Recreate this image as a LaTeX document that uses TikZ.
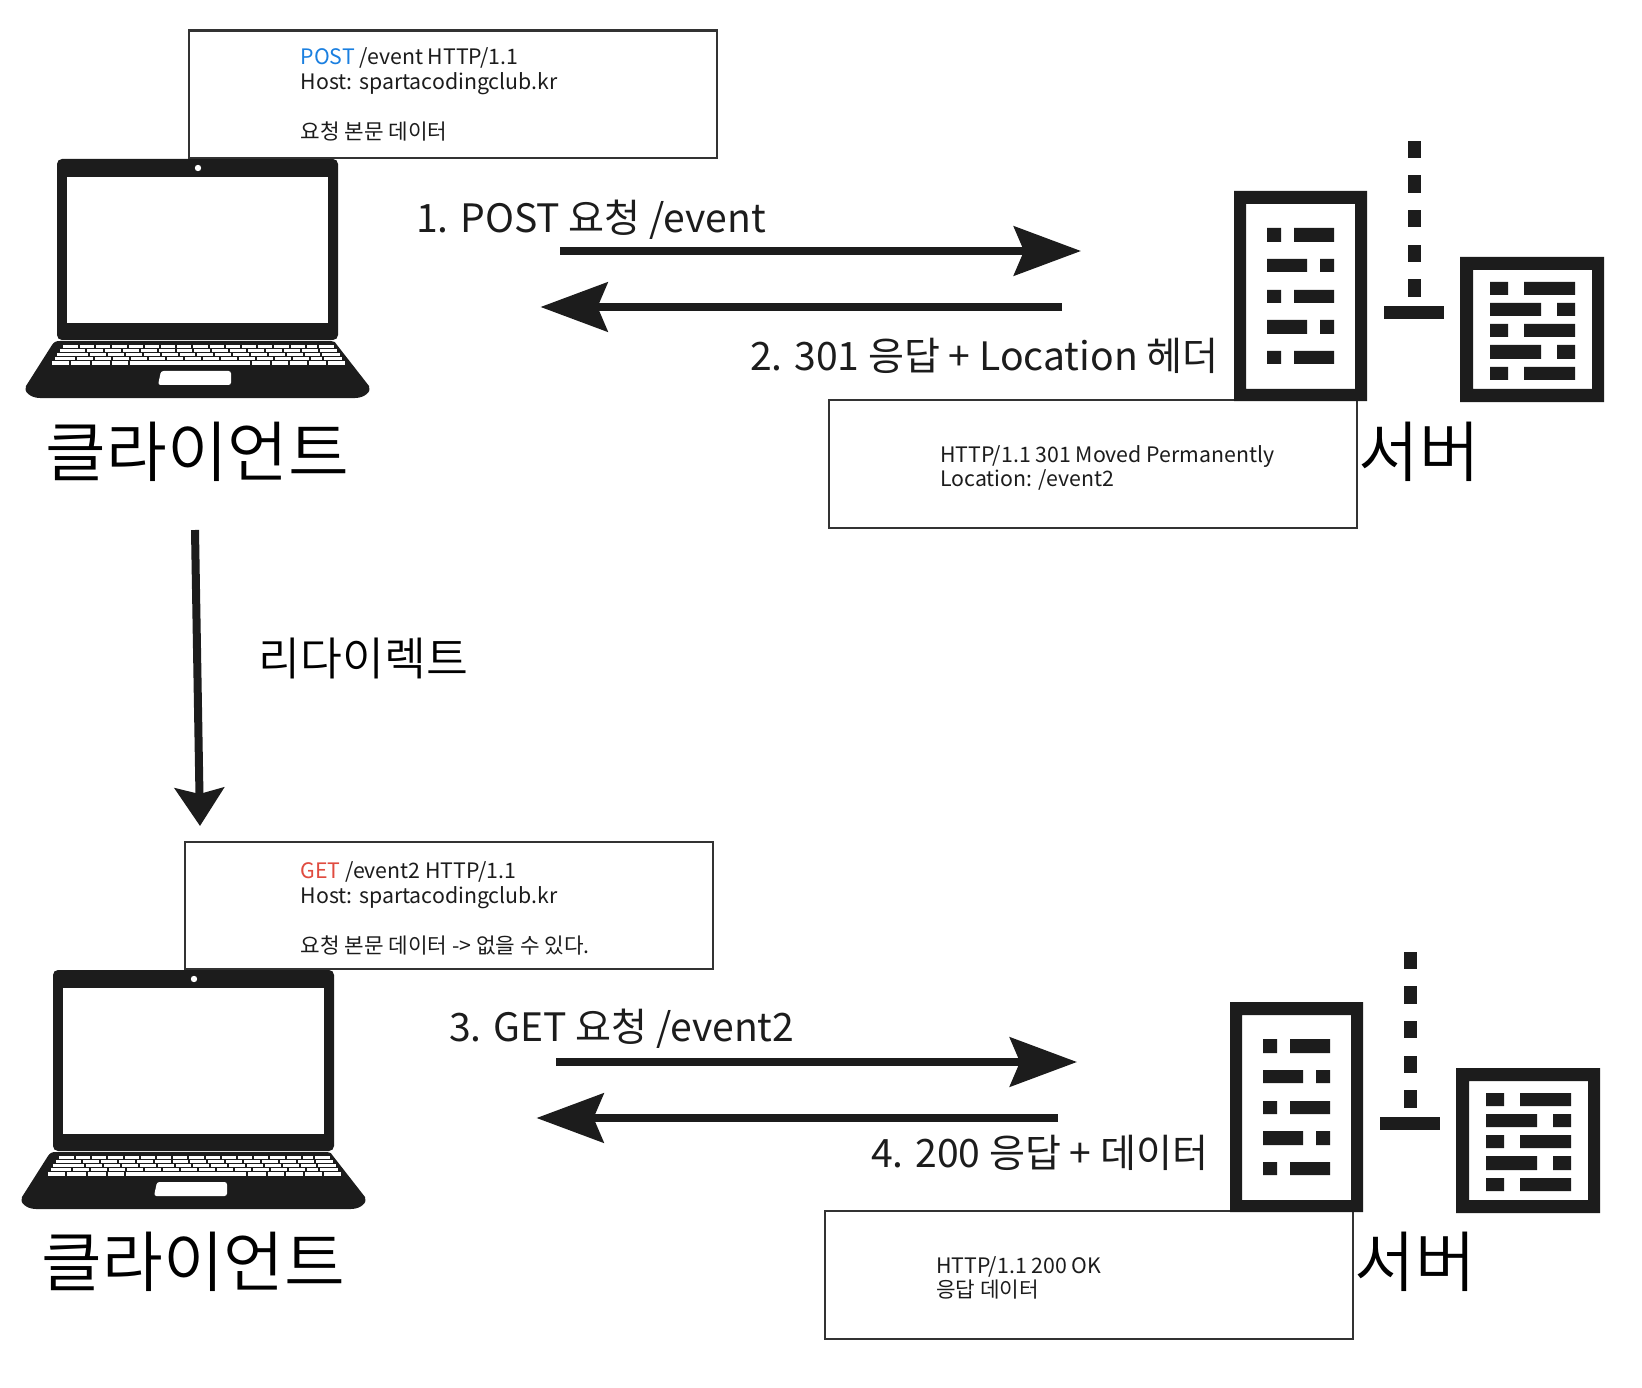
\documentclass[tikz,border=0pt]{standalone}
\usepackage{fontspec}
\setmainfont{Noto Sans CJK KR}
\newfontfamily\lightkr{Noto Sans CJK KR DemiLight}
\usetikzlibrary{arrows.meta}
\definecolor{ink}{HTML}{1C1C1C}
\definecolor{boxline}{HTML}{333333}
\definecolor{postblue}{HTML}{1A7FE0}
\definecolor{getred}{HTML}{E04B3F}
\tikzset{
  msgbox/.style={draw=boxline,line width=2.4pt,fill=white,minimum width=528pt,minimum height=127.5pt,anchor=north west,inner sep=0},
  msgtext/.style={anchor=west,inner sep=0,font=\fontsize{21.3}{24}\selectfont,text=ink},
  steplabel/.style={anchor=base west,inner sep=0,font=\fontsize{39.1}{44}\selectfont,text=ink},
  bigtext/.style={anchor=center,inner sep=0,font=\lightkr\fontsize{66}{76}\selectfont,text=black},
  flow/.style={draw=ink,line width=8pt,-{Stealth[length=67pt,width=49pt,inset=10pt,fill=ink]}},
  flowdown/.style={draw=ink,line width=8pt,-{Stealth[length=38pt,width=49pt,inset=6pt,fill=ink]}},
  laptop/.pic={
    \fill[ink,rounded corners=5pt] (57,159) rectangle (338,340);
    \fill[white] (67,177) rectangle (328,323);
    \fill[white] (198,168) circle (3.2);
    \fill[ink] (60,341) -- (331,341) .. controls (334,341) and (335,342) .. (337,345)
      -- (369,386) .. controls (372,391) and (365,398) .. (355,398) -- (40,398)
      .. controls (30,398) and (23,391) .. (26,386) -- (52,345)
      .. controls (54,342) and (56,341) .. (60,341) -- cycle;
    % keyboard: white strips, cut by black ticks
    \foreach \ya/\yb/\xa/\xb/\xc/\xd/\ta/\tb/\tc in {
      345/347.8/63/317/319/334/78/94.2/305,
      349/351.7/60/318/320/337/85/102.9/305,
      353/355.8/57/320/322/340/88/105.9/305,
      357/359.6/55/322/324/342/75/93/310}
    {
      \fill[white] (\xa,\ya) rectangle (\xb,\yb);
      \fill[white] (\xc,\ya) rectangle (\xd,\yb);
      \foreach \x in {\ta,\tb,...,\tc} {\fill[ink] (\x,\ya) rectangle (\x+2,\yb);}
    }
    \fill[white] (52,361) rectangle (345,365);
    \foreach \x in {69,90,110,128,250,270,288,307,326} {\fill[ink] (\x,361) rectangle (\x+2,365);}
    \fill[white,rounded corners=2.5pt] (161,371) -- (231,371) -- (231,385) -- (158,385) -- cycle;
  },
  server/.pic={
    \fill[ink,even odd rule] (1234,191) rectangle (1367,401) (1246,204) rectangle (1355,389);
    \foreach \y/\z in {228/242,290/303,351/364}
      {\fill[ink] (1267,\y) rectangle (1281,\z) (1294,\y) rectangle (1334,\z);}
    \foreach \y/\z in {259/272,320/334}
      {\fill[ink] (1267,\y) rectangle (1307,\z) (1320,\y) rectangle (1334,\z);}
    \foreach \y/\z in {141/158,175/193,210/227,245/262,279/297}
      {\fill[ink] (1408,\y) rectangle (1421,\z);}
    \fill[ink] (1384,306) rectangle (1444,319);
    \fill[ink,even odd rule] (1460,257) rectangle (1604,402) (1473,270) rectangle (1592,389);
    \foreach \y/\z in {282/295,324/337,367/380}
      {\fill[ink] (1490,\y) rectangle (1508,\z) (1524,\y) rectangle (1575,\z);}
    \foreach \y/\z in {303/316,345/359}
      {\fill[ink] (1490,\y) rectangle (1541,\z) (1557,\y) rectangle (1575,\z);}
  }
}
\begin{document}
\begin{tikzpicture}[x=1pt,y=-1pt]
\useasboundingbox (0,0) rectangle (1642,1388);
\fill[white] (0,0) rectangle (1642,1388);
% message boxes
\node[msgbox] (reqA) at (188,29.5) {};
\node[msgbox] (resA) at (828,399) {};
\node[msgbox] (reqB) at (184,840.5) {};
\node[msgbox] (resB) at (824,1210) {};
% icons
\pic (clientA) at (0,0) {laptop};
\pic (serverA) at (0,0) {server};
\pic (clientB) at (-4,811) {laptop};
\pic (serverB) at (-4,811) {server};
% box texts
\node[msgtext] (t1) at (300.5,58) {\textcolor{postblue}{POST} /event HTTP/1.1};
\node[msgtext] (t2) at (300.5,83.5) {Host: spartacodingclub.kr};
\node[msgtext] (t3) at (300.5,131.5) {요청 본문 데이터};
\node[msgtext] (t4) at (940,456.5) {HTTP/1.1 301 Moved Permanently};
\node[msgtext] (t5) at (940,480) {Location: /event2};
\node[msgtext] (t6) at (300.5,872) {\textcolor{getred}{GET} /event2 HTTP/1.1};
\node[msgtext] (t7) at (300.5,897.5) {Host: spartacodingclub.kr};
\node[msgtext] (t8) at (300.5,945.5) {요청 본문 데이터 -> 없을 수 있다.};
\node[msgtext] (t9) at (936,1266.5) {HTTP/1.1 200 OK};
\node[msgtext] (t10) at (936,1289.5) {응답 데이터};
% labels
\node[steplabel] (l1) at (416,233) {1. POST 요청 /event};
\node[steplabel] (l2) at (750,370.5) {2. 301 응답 + Location 헤더};
\node[steplabel] (l3) at (449,1041) {3. GET 요청 /event2};
\node[steplabel] (l4) at (871,1167.5) {4. 200 응답 + 데이터};
\node[bigtext] (c1) at (197.5,452) {클라이언트};
\node[bigtext] (s1) at (1419,452) {서버};
\node[bigtext] (c2) at (193.5,1262) {클라이언트};
\node[bigtext] (s2) at (1415,1262) {서버};
\node[anchor=center,inner sep=0,font=\lightkr\fontsize{45.5}{50}\selectfont,text=black] (redir) at (363.5,658.5) {리다이렉트};
% connectors
\coordinate (a1s) at (560,251); \coordinate (a1e) at (1081,251);
\coordinate (a2s) at (1062,307); \coordinate (a2e) at (540.5,307);
\coordinate (a3s) at (556,1062); \coordinate (a3e) at (1077,1062);
\coordinate (a4s) at (1058,1118); \coordinate (a4e) at (536.5,1118);
\coordinate (ds) at (195,530); \coordinate (de) at (200,826);
\draw[flow] (a1s) -- (a1e);
\draw[flow] (a2s) -- (a2e);
\draw[flow] (a3s) -- (a3e);
\draw[flow] (a4s) -- (a4e);
\draw[flowdown] (ds) -- (de);
\end{tikzpicture}
\end{document}
